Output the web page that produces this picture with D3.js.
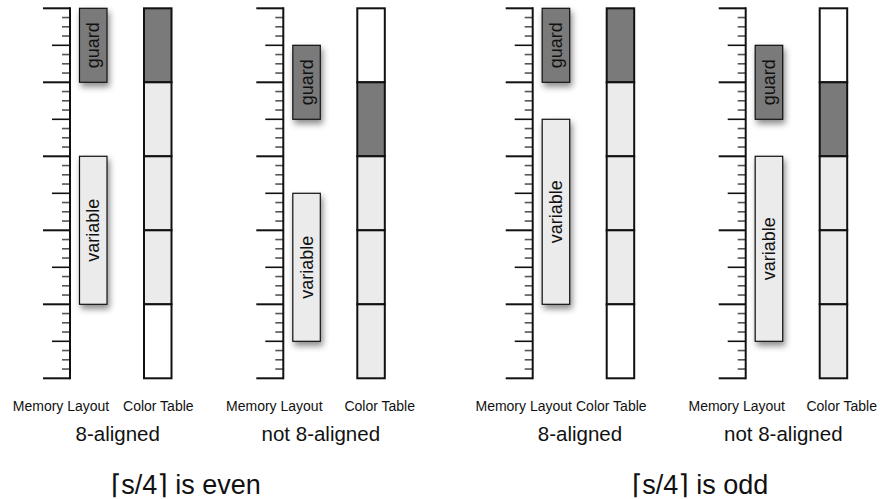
<!DOCTYPE html>
<html>
<head>
<meta charset="utf-8">
<script src="https://cdn.jsdelivr.net/npm/d3@7"></script>
<style>
  body { margin: 0; background: #fff; }
  text { font-family: "Liberation Sans", Arial, "DejaVu Sans", sans-serif; fill: #111; }
</style>
</head>
<body>
<svg id="chart" width="880" height="499"></svg>
<script>
// data, in ruler units (one small tick = 1 unit, 40 units tall)
var panelNames = ["8-aligned", "not 8-aligned", "8-aligned", "not 8-aligned"];
var guardStart = [0, 4, 0, 4];
var guardEnd   = [8, 12, 8, 12];
var varStart   = [16, 20, 12, 16];
var varEnd     = [32, 36, 32, 36];
// colour table entries, one per 8 units
var colorCells = [
    ["guard", "var", "var", "var", "empty"],
    ["empty", "guard", "var", "var", "var"],
    ["guard", "var", "var", "var", "empty"],
    ["empty", "guard", "var", "var", "var"]
];
var groupNames = ["\u2308s/4\u2309 is even", "\u2308s/4\u2309 is odd"];
var rulerUnits = 40;

// layout
var axisX = [70, 283.3, 532.7, 745.7];
var colorLabelDx = [88.3, 96.4, 78.6, 96];
var subDx = [47.7, 37.5, 47.3, 37.6];
var groupX = [185.8, 700];

var fills = { guard: "#7a7a7a", "var": "#ebebeb", empty: "#ffffff" };

var svg = d3.select("#chart");

// drop shadow for the memory blocks
var defs = svg.append("defs");
var f = defs.append("filter").attr("id", "shadow")
    .attr("x", "-50%").attr("y", "-20%").attr("width", "200%").attr("height", "150%");
f.append("feDropShadow").attr("dx", 2).attr("dy", 4)
    .attr("stdDeviation", 3).attr("flood-color", "#000").attr("flood-opacity", 0.45);

var y = d3.scaleLinear().domain([0, rulerUnits]).range([8.3, 378.3]);

panelNames.forEach(function(name, i) {
    var g = svg.append("g").attr("transform", "translate(" + axisX[i] + ",0)");

    // ruler ticks
    g.selectAll("line.tick")
        .data(d3.range(rulerUnits + 1))
        .enter().append("line")
        .attr("class", "tick")
        .attr("x1", function(d) { return d % 8 === 0 ? -27 : (d % 4 === 0 ? -18 : -8); })
        .attr("x2", 0)
        .attr("y1", function(d) { return y(d); })
        .attr("y2", function(d) { return y(d); })
        .attr("stroke", function(d) { return d % 4 === 0 ? "#111" : "#555"; })
        .attr("stroke-width", function(d) { return d % 8 === 0 ? 2 : 1.6; });

    g.append("line")
        .attr("x1", 0).attr("x2", 0)
        .attr("y1", y(0) - 1).attr("y2", y(rulerUnits) + 1)
        .attr("stroke", "#111").attr("stroke-width", 2);

    // memory blocks
    var blocks = [
        { label: "guard", s: guardStart[i], e: guardEnd[i], fill: fills.guard },
        { label: "variable", s: varStart[i], e: varEnd[i], fill: fills["var"] }
    ];
    var bx = 9.5, bw = 27.5;
    blocks.forEach(function(b) {
        g.append("rect")
            .attr("x", bx).attr("y", y(b.s))
            .attr("width", bw).attr("height", y(b.e) - y(b.s))
            .attr("fill", b.fill).attr("stroke", "#111").attr("stroke-width", 1.2)
            .attr("filter", "url(#shadow)");
        var cy = (y(b.s) + y(b.e)) / 2;
        g.append("text")
            .attr("transform", "translate(" + (bx + bw / 2) + "," + cy + ") rotate(-90)")
            .attr("text-anchor", "middle")
            .attr("dominant-baseline", "central")
            .style("font-size", "18px")
            .text(b.label);
    });

    // colour table
    var cx = 74, cw = 27.5;
    g.selectAll("rect.cell")
        .data(colorCells[i])
        .enter().append("rect")
        .attr("class", "cell")
        .attr("x", cx)
        .attr("y", function(d, k) { return y(k * 8); })
        .attr("width", cw)
        .attr("height", y(8) - y(0))
        .attr("fill", function(d) { return fills[d]; })
        .attr("stroke", "#111").attr("stroke-width", 2);

    // labels
    g.append("text").attr("x", -9).attr("y", 410.5)
        .attr("text-anchor", "middle").style("font-size", "14px")
        .text("Memory Layout");
    g.append("text").attr("x", colorLabelDx[i]).attr("y", 410.5)
        .attr("text-anchor", "middle").style("font-size", "14px")
        .text("Color Table");
    g.append("text").attr("x", subDx[i]).attr("y", 441)
        .attr("text-anchor", "middle").style("font-size", "20.5px")
        .text(name);
});

svg.selectAll("text.group")
    .data(groupNames)
    .enter().append("text")
    .attr("class", "group")
    .attr("x", function(d, i) { return groupX[i]; })
    .attr("y", 494)
    .attr("text-anchor", "middle")
    .style("font-size", "27px")
    .text(function(d) { return d; });
</script>
</body>
</html>
